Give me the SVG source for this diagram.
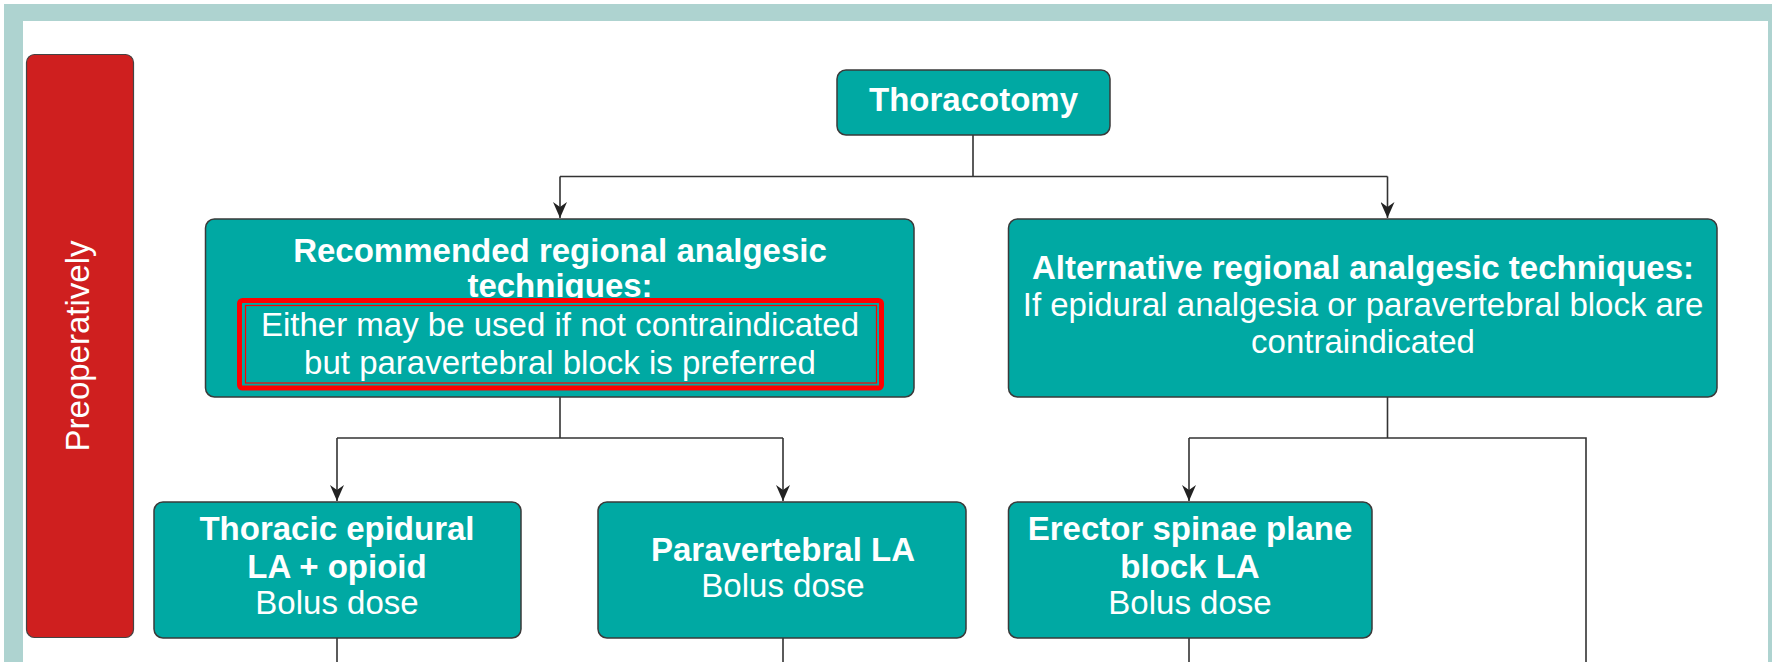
<svg xmlns="http://www.w3.org/2000/svg" width="1772" height="662" viewBox="0 0 1772 662">
<style>
.box{fill:#00A9A3;stroke:#3a3a3a;stroke-width:1.5}
.t{font-family:"Liberation Sans",Arial,sans-serif;font-size:33px;fill:#ffffff;text-anchor:middle}
.b{font-weight:bold}
.c{fill:none;stroke:#333333;stroke-width:1.6}
</style>
<defs>
<marker id="ah" markerUnits="userSpaceOnUse" markerWidth="16" markerHeight="14" viewBox="0 0 16 14" refX="16" refY="7" orient="auto">
<path d="M0,0 L5,7 L0,14 L16,7 Z" fill="#222222"/>
</marker>
</defs>
<rect x="0" y="0" width="1772" height="662" fill="#ffffff"/>
<rect x="4" y="4" width="1768" height="658" fill="#AED3D0"/>
<rect x="23" y="21" width="1745" height="641" fill="#ffffff"/>

<g id="connectors">
<path class="c" d="M973,135 V176.5 M560,176.5 H1387.5"/>
<path class="c" d="M560,176.5 V218" marker-end="url(#ah)"/>
<path class="c" d="M1387.5,176.5 V218" marker-end="url(#ah)"/>
<path class="c" d="M560,397 V438 M337,438 H783"/>
<path class="c" d="M337,438 V501" marker-end="url(#ah)"/>
<path class="c" d="M783,438 V501" marker-end="url(#ah)"/>
<path class="c" d="M1387.5,397 V438 M1189,438 H1586 V662"/>
<path class="c" d="M1189,438 V501" marker-end="url(#ah)"/>
<path class="c" d="M337,638 V662 M783,638 V662 M1189,638 V662"/>
</g>

<g id="preoperatively">
<rect x="26.5" y="54.5" width="107" height="583" rx="8" fill="#CF1F1F" stroke="#444444" stroke-width="1.2"/>
<text class="t" transform="translate(89,346) rotate(-90)">Preoperatively</text>
</g>

<g id="thoracotomy">
<rect class="box" x="837" y="70" width="273" height="65" rx="9"/>
<text class="t b" x="973.5" y="110.5">Thoracotomy</text>
</g>

<g id="recommended">
<rect class="box" x="205.5" y="219" width="708.5" height="178" rx="9"/>
<text class="t b" x="560" y="261.5">Recommended regional analgesic</text>
<text class="t b" x="560" y="297">techniques:</text>
<rect x="239.5" y="300.5" width="642" height="87.5" rx="3" fill="#00A9A3" stroke="#FF0000" stroke-width="5"/>
<rect x="245.5" y="305.5" width="631" height="77.5" fill="none" stroke="#FF0000" stroke-width="1.2"/>
<text class="t" x="560" y="335.5">Either may be used if not contraindicated</text>
<text class="t" x="560" y="373.5">but paravertebral block is preferred</text>
</g>

<g id="alternative">
<rect class="box" x="1008.5" y="219" width="708.5" height="178" rx="9"/>
<text class="t b" x="1363" y="278.5">Alternative regional analgesic techniques:</text>
<text class="t" x="1363" y="315.5">If epidural analgesia or paravertebral block are</text>
<text class="t" x="1363" y="352.5">contraindicated</text>
</g>

<g id="thoracic-epidural">
<rect class="box" x="154" y="502" width="367" height="136" rx="9"/>
<text class="t b" x="337" y="540">Thoracic epidural</text>
<text class="t b" x="337" y="578">LA + opioid</text>
<text class="t" x="337" y="614">Bolus dose</text>
</g>

<g id="paravertebral">
<rect class="box" x="598" y="502" width="368" height="136" rx="9"/>
<text class="t b" x="783" y="561">Paravertebral LA</text>
<text class="t" x="783" y="597">Bolus dose</text>
</g>

<g id="erector-spinae">
<rect class="box" x="1008.5" y="502" width="363.5" height="136" rx="9"/>
<text class="t b" x="1190" y="540">Erector spinae plane</text>
<text class="t b" x="1190" y="578">block LA</text>
<text class="t" x="1190" y="614">Bolus dose</text>
</g>
</svg>
